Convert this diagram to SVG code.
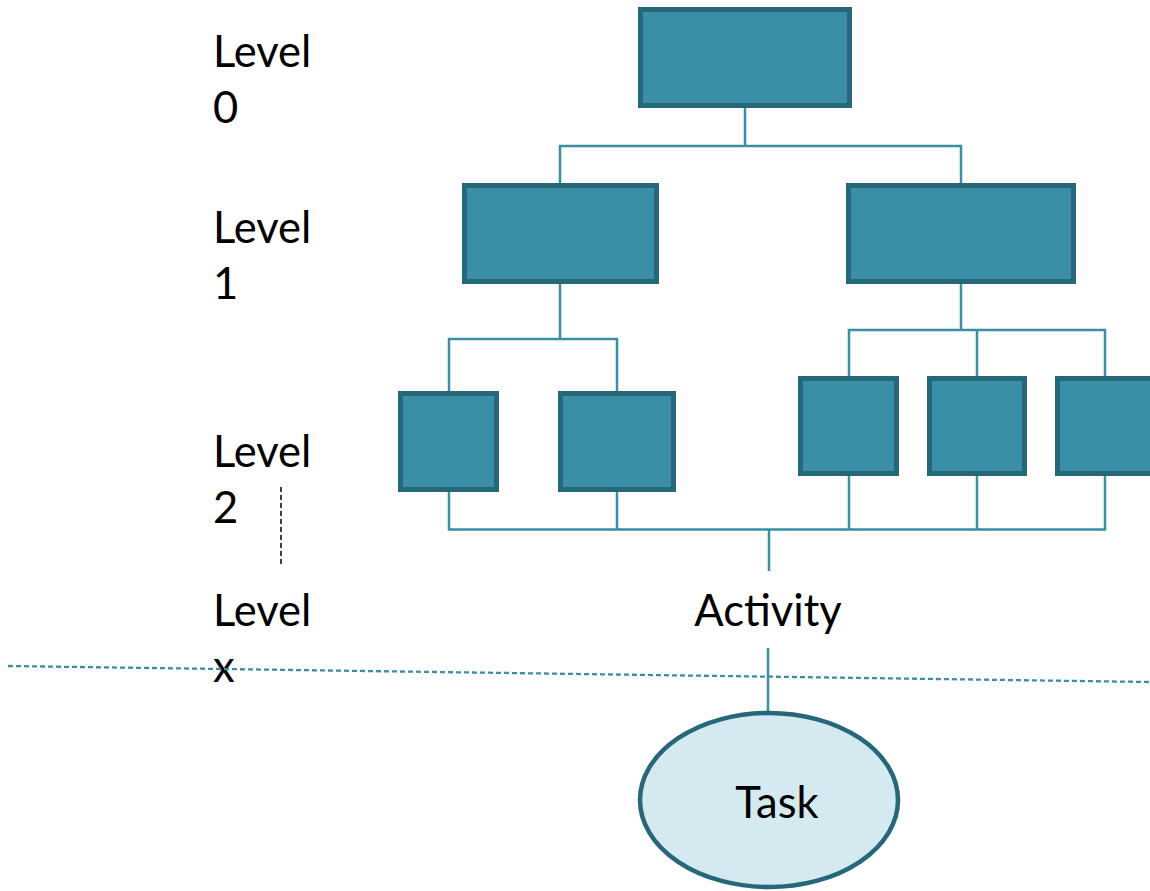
<svg xmlns="http://www.w3.org/2000/svg" width="1150" height="891" viewBox="0 0 1150 891">
  <style>
    .box { fill: #3A8FA6; stroke: #26687A; stroke-width: 5; }
    .link { fill: none; stroke: #3A8FA6; stroke-width: 2.5; }
    .lbl { font-family: Lato, "Open Sans", sans-serif; font-size: 43.5px; fill: #000; }
    .task { fill: #D4EAF0; stroke: #26687A; stroke-width: 4.5; }
  </style>
  <rect width="1150" height="891" fill="#fff"/>

  <!-- level labels -->
  <g id="levels" class="lbl">
    <text x="213" y="67">Level</text>
    <text x="213" y="123">0</text>
    <text x="213" y="243">Level</text>
    <text x="213" y="299">1</text>
    <text x="213" y="467">Level</text>
    <text x="213" y="523">2</text>
    <text x="213" y="626">Level</text>
    <text x="213" y="682">x</text>
  </g>
  <line x1="281" y1="487" x2="281" y2="565" stroke="#000" stroke-width="1.5" stroke-dasharray="5,3"/>

  <!-- boundary between activity and task -->
  <line x1="8" y1="666" x2="1150" y2="682" stroke="#3A8FA6" stroke-width="2.3" stroke-dasharray="5,3"/>

  <g id="connectors" class="link">
    <path d="M745 108V146M560 183V146H961V183"/>
    <path d="M560 284V339M449 391V339H617V391"/>
    <path d="M961 284V330M849 376V330H1105V376M977 330V376"/>
    <path d="M449 492V529.5H1105V476M617 492V529.5M849 476V529.5M977 476V529.5"/>
    <path d="M769 529.5V571"/>
    <path d="M768 648V713"/>
  </g>

  <g id="n0"><rect class="box" x="640.5" y="9.5" width="209" height="96"/></g>
  <g id="n1a"><rect class="box" x="464.5" y="185.5" width="192" height="96"/></g>
  <g id="n1b"><rect class="box" x="848.5" y="185.5" width="225" height="96"/></g>
  <g id="n2a"><rect class="box" x="400.5" y="393.5" width="96" height="96"/></g>
  <g id="n2b"><rect class="box" x="560.5" y="393.5" width="113" height="96"/></g>
  <g id="n2c"><rect class="box" x="800.5" y="378.5" width="96" height="95"/></g>
  <g id="n2d"><rect class="box" x="929.5" y="378.5" width="95" height="95"/></g>
  <g id="n2e"><rect class="box" x="1057.5" y="378.5" width="100" height="95"/></g>

  <g id="activity">
    <text class="lbl" x="768" y="626" text-anchor="middle">Activity</text>
  </g>

  <g id="task">
    <ellipse class="task" cx="769" cy="800" rx="129" ry="87"/>
    <text class="lbl" x="777" y="818" text-anchor="middle">Task</text>
  </g>
</svg>
